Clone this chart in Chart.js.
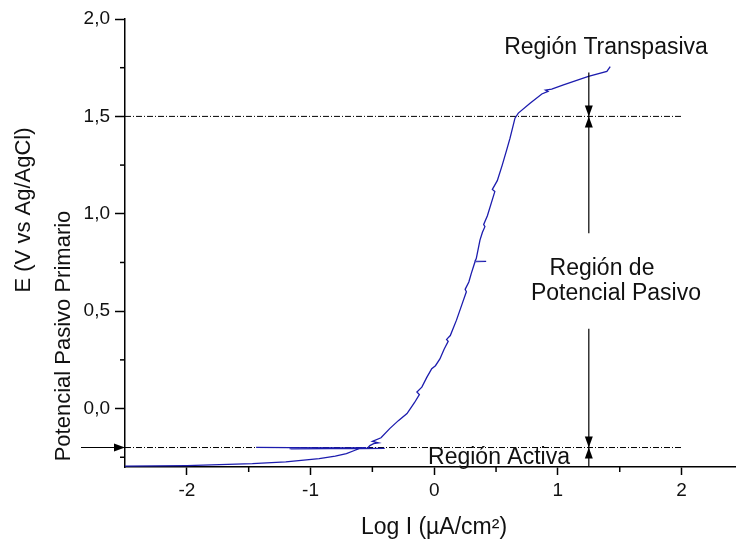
<!DOCTYPE html>
<html>
<head>
<meta charset="utf-8">
<script src="https://cdn.jsdelivr.net/npm/chart.js@4"></script>
<style>
  html, body { margin: 0; padding: 0; background: #fff; }
  #wrap { width: 736px; height: 541px; }
</style>
</head>
<body>
<div id="wrap"><canvas id="polarizacion"></canvas></div>
<script>
// curva de polarizacion: log I contra E
var logI = [
  -2.50, -2.00, -1.47, -1.20, -0.93, -0.80, -0.71, -0.64, -0.60, -0.40,
  -1.44, -1.17, -0.56, -1.17, -0.57, -1.15, -0.55, -1.16, -0.54,
  -0.52, -0.49, -0.45, -0.50, -0.43,
  -0.36, -0.29, -0.22, -0.16, -0.12, -0.14, -0.10, -0.06, -0.02, 0.01,
  0.046, 0.08, 0.113, 0.10, 0.13, 0.18, 0.23, 0.26, 0.25, 0.28,
  0.30, 0.33, 0.42, 0.33, 0.34, 0.37, 0.39, 0.41, 0.40, 0.43,
  0.49, 0.47, 0.51, 0.55, 0.586, 0.613, 0.653, 0.68, 0.775, 0.87,
  0.92, 0.90, 0.95, 1.045, 1.247, 1.396, 1.423
];
var potencial = [
  -0.296, -0.293, -0.283, -0.274, -0.257, -0.244, -0.231, -0.214, -0.205, -0.204,
  -0.199, -0.201, -0.203, -0.206, -0.205, -0.203, -0.202, -0.207, -0.204,
  -0.190, -0.180, -0.176, -0.168, -0.150,
  -0.103, -0.062, -0.026, 0.030, 0.072, 0.085, 0.110, 0.160, 0.205, 0.220,
  0.255, 0.305, 0.345, 0.355, 0.375, 0.454, 0.545, 0.600, 0.612, 0.650,
  0.694, 0.754, 0.756, 0.757, 0.770, 0.865, 0.905, 0.934, 0.945, 0.990,
  1.114, 1.125, 1.170, 1.250, 1.328, 1.388, 1.491, 1.517, 1.568, 1.615,
  1.628, 1.635, 1.640, 1.662, 1.705, 1.731, 1.756
];

// niveles de referencia (potencial pasivo primario y de transpasivacion)
var nivelesE = [1.5, -0.2];
var xTicks = [-2, -1.5, -1, -0.5, 0, 0.5, 1, 1.5, 2];
var yTicks = [-0.25, 0, 0.25, 0.5, 0.75, 1, 1.25, 1.5, 1.75, 2];
var flechaX = 1.25;

var curva = logI.map(function (x, i) { return { x: x, y: potencial[i] }; });

var datasets = [{
  data: curva,
  showLine: true,
  borderColor: '#1c1cae',
  borderWidth: 1.3,
  pointRadius: 0,
  tension: 0
}];
nivelesE.forEach(function (e) {
  datasets.push({
    data: [{ x: -2.5, y: e }, { x: 2, y: e }],
    showLine: true,
    borderColor: '#000',
    borderWidth: 1,
    borderDash: [6, 2, 1, 2],
    pointRadius: 0
  });
});

var FUENTE = '"Liberation Sans", Arial, sans-serif';

function punta(c, x, y, dir) {
  // dir: 'up', 'down', 'right'
  c.beginPath();
  if (dir === 'down') { c.moveTo(x, y); c.lineTo(x - 4, y - 11); c.lineTo(x + 4, y - 11); }
  if (dir === 'up') { c.moveTo(x, y); c.lineTo(x - 4, y + 11); c.lineTo(x + 4, y + 11); }
  if (dir === 'right') { c.moveTo(x, y); c.lineTo(x - 11, y - 4); c.lineTo(x - 11, y + 4); }
  c.closePath();
  c.fill();
}

var anotaciones = {
  id: 'anotaciones',
  afterDraw: function (chart) {
    var c = chart.ctx;
    var sx = chart.scales.x, sy = chart.scales.y;
    var area = chart.chartArea;
    c.save();

    // marcas menores de los ejes
    c.strokeStyle = '#000';
    c.lineWidth = 1.5;
    xTicks.forEach(function (v) {
      if (v % 1 !== 0) {
        var px = sx.getPixelForValue(v);
        c.beginPath(); c.moveTo(px, area.bottom); c.lineTo(px, area.bottom + 5); c.stroke();
      }
    });
    yTicks.forEach(function (v) {
      if (Math.abs(v * 2 - Math.round(v * 2)) > 1e-6) {
        var py = sy.getPixelForValue(v);
        c.beginPath(); c.moveTo(area.left, py); c.lineTo(area.left - 5, py); c.stroke();
      }
    });

    // flechas
    c.fillStyle = '#000';
    c.lineWidth = 1.2;
    var ax = sx.getPixelForValue(flechaX);
    var yBot = sy.getPixelForValue(nivelesE[1]);
    var tramos = [
      [1.725, nivelesE[0], 'down'],
      [0.90, nivelesE[0], 'up'],
      [0.41, nivelesE[1], 'down'],
      [-0.30, nivelesE[1], 'up']
    ];
    tramos.forEach(function (t) {
      var y0 = sy.getPixelForValue(t[0]);
      var y1 = sy.getPixelForValue(t[1]);
      c.beginPath(); c.moveTo(ax, y0); c.lineTo(ax, y1); c.stroke();
      punta(c, ax, y1, t[2]);
    });
    c.beginPath(); c.moveTo(81, yBot); c.lineTo(area.left, yBot); c.stroke();
    punta(c, area.left, yBot, 'right');

    // textos de las regiones
    c.fillStyle = '#111';
    c.font = '23px ' + FUENTE;
    c.textAlign = 'center';
    c.textBaseline = 'alphabetic';
    c.fillText('Región Transpasiva', 606, 54);
    c.fillText('Región de', 602, 275);
    c.fillText('Potencial Pasivo', 616, 300);
    c.fillText('Región Activa', 499, 464);

    // titulos de los ejes
    c.fillText('Log I (µA/cm²)', 434, 534);
    c.font = '22px ' + FUENTE;
    c.save();
    c.translate(30, 210);
    c.rotate(-Math.PI / 2);
    c.fillText('E (V vs Ag/AgCl)', 0, 0);
    c.restore();
    c.save();
    c.translate(70, 336);
    c.rotate(-Math.PI / 2);
    c.fillText('Potencial Pasivo Primario', 0, 0);
    c.restore();

    c.restore();
  }
};

new Chart(document.getElementById('polarizacion'), {
  type: 'scatter',
  data: { datasets: datasets },
  options: {
    responsive: true,
    maintainAspectRatio: false,
    animation: false,
    layout: { padding: { top: 19, right: 0, left: 0, bottom: 0 } },
    plugins: { legend: { display: false }, tooltip: { enabled: false } },
    scales: {
      x: {
        type: 'linear',
        min: -2.5,
        max: 2.44,
        afterBuildTicks: function (s) { s.ticks = xTicks.map(function (v) { return { value: v }; }); },
        afterFit: function (s) { s.height = 74; },
        border: { color: '#000', width: 1.5 },
        grid: {
          drawOnChartArea: false,
          tickLength: 8,
          tickWidth: 1.5,
          tickColor: function (ctx) { return ctx.tick && ctx.tick.value % 1 === 0 ? '#000' : 'rgba(0,0,0,0)'; }
        },
        ticks: {
          color: '#111',
          font: { family: FUENTE, size: 19 },
          padding: 4,
          maxRotation: 0,
          autoSkip: false,
          callback: function (v) { return v % 1 === 0 ? String(v) : ''; }
        }
      },
      y: {
        type: 'linear',
        min: -0.3,
        max: 2.0,
        afterBuildTicks: function (s) { s.ticks = yTicks.map(function (v) { return { value: v }; }); },
        afterFit: function (s) { s.width = 125; },
        border: { color: '#000', width: 1.5 },
        grid: {
          drawOnChartArea: false,
          tickLength: 10,
          tickWidth: 1.5,
          tickColor: function (ctx) {
            var v = ctx.tick ? ctx.tick.value : 0.1;
            return Math.abs(v * 2 - Math.round(v * 2)) < 1e-6 ? '#000' : 'rgba(0,0,0,0)';
          }
        },
        ticks: {
          color: '#111',
          font: { family: FUENTE, size: 19 },
          padding: 5,
          autoSkip: false,
          callback: function (v) {
            return Math.abs(v * 2 - Math.round(v * 2)) < 1e-6 ? v.toFixed(1).replace('.', ',') : '';
          }
        }
      }
    }
  },
  plugins: [anotaciones]
});
</script>
</body>
</html>
